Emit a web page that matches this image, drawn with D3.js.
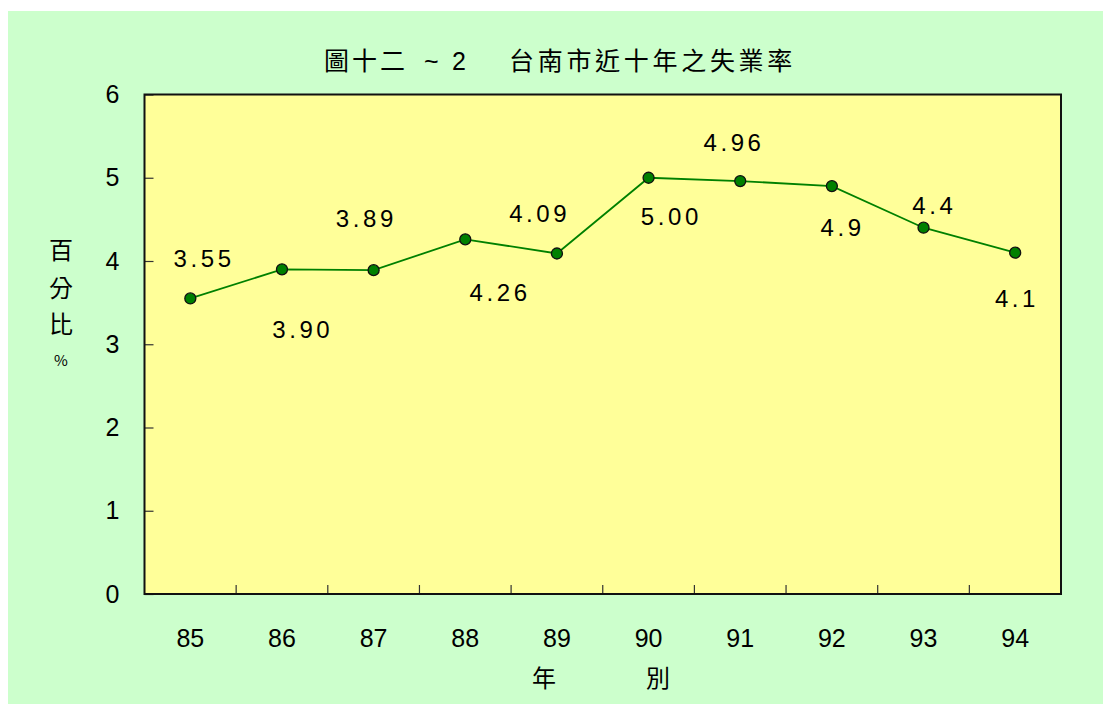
<!DOCTYPE html>
<html>
<head>
<meta charset="utf-8">
<script src="https://cdn.jsdelivr.net/npm/d3@7"></script>
<style>
  html, body { margin: 0; padding: 0; background: #ffffff; }
  svg { display: block; }
</style>
</head>
<body>
<svg id="chart" width="1103" height="704"></svg>
<script>
// Unemployment rate, Tainan City, ROC years 85–94
const years = ["85", "86", "87", "88", "89", "90", "91", "92", "93", "94"];
const rates = [3.55, 3.90, 3.89, 4.26, 4.09, 5.00, 4.96, 4.9, 4.4, 4.1];
const rateLabels = ["3.55", "3.90", "3.89", "4.26", "4.09", "5.00", "4.96", "4.9", "4.4", "4.1"];
const yTicks = [0, 1, 2, 3, 4, 5, 6];

// label placement relative to each point (pixels)
const labelDx = [12, 19, -9, 33, -19, 21, -8, 9, 9, 0];
const labelDy = [-40, 60, -52, 53, -40, 39, -39, 41, -22, 46];

const svg = d3.select("#chart");
const W = 1103, H = 704;

// panel background
svg.append("rect").attr("x", 8).attr("y", 11)
  .attr("width", W - 8).attr("height", H - 11)
  .attr("fill", "#ccffcc");

const plot = { left: 144.5, right: 1061, top: 94.5, bottom: 594 };

const x = d3.scaleBand().domain(years).range([plot.left, plot.right]);
const y = d3.scaleLinear().domain([0, 6]).range([plot.bottom, plot.top]);

// plot area
svg.append("rect")
  .attr("x", plot.left).attr("y", plot.top)
  .attr("width", plot.right - plot.left).attr("height", plot.bottom - plot.top)
  .attr("fill", "#ffff99");

const tickFont = "'Liberation Sans Narrow', 'Liberation Sans', Arial, sans-serif";

// y axis: ticks pointing into the plot
const yAxis = svg.append("g")
  .attr("transform", `translate(${plot.left},0)`)
  .call(d3.axisLeft(y).tickValues(yTicks).tickSizeInner(-9).tickSizeOuter(0).tickPadding(25)
    .tickFormat(d3.format("d")));
yAxis.select(".domain").remove();
yAxis.selectAll(".tick line").attr("stroke", "#333").attr("stroke-width", 1.2);
yAxis.selectAll(".tick text")
  .attr("font-family", tickFont).attr("font-size", 25).attr("fill", "#000");

// x axis: category labels, ticks at category boundaries
const xAxis = svg.append("g")
  .attr("transform", `translate(0,${plot.bottom})`)
  .call(d3.axisBottom(x).tickSize(0).tickPadding(35));
xAxis.select(".domain").remove();
xAxis.selectAll(".tick text")
  .attr("font-family", tickFont).attr("font-size", 25).attr("fill", "#000");

svg.append("g").selectAll("line")
  .data(years.slice(0, -1))
  .join("line")
  .attr("x1", d => x(d) + x.bandwidth()).attr("x2", d => x(d) + x.bandwidth())
  .attr("y1", plot.bottom).attr("y2", plot.bottom - 9)
  .attr("stroke", "#333").attr("stroke-width", 1.2);

// plot frame
svg.append("rect")
  .attr("x", plot.left).attr("y", plot.top)
  .attr("width", plot.right - plot.left).attr("height", plot.bottom - plot.top)
  .attr("fill", "none").attr("stroke", "#111").attr("stroke-width", 2);

const cx = d => x(d) + x.bandwidth() / 2;

// series line
const line = d3.line().x((d, i) => cx(years[i])).y(d => y(d));
svg.append("path")
  .datum(rates)
  .attr("d", line)
  .attr("fill", "none").attr("stroke", "#008000").attr("stroke-width", 1.8);

// markers
svg.append("g").selectAll("circle")
  .data(rates)
  .join("circle")
  .attr("cx", (d, i) => cx(years[i])).attr("cy", d => y(d))
  .attr("r", 5.5)
  .attr("fill", "#008000").attr("stroke", "#111").attr("stroke-width", 1.3);

// value labels (spaced-out digits)
const labelSpacing = 3.6;
svg.append("g").selectAll("text")
  .data(rates)
  .join("text")
  .attr("x", (d, i) => cx(years[i]) + labelDx[i] + labelSpacing / 2)
  .attr("y", (d, i) => y(d) + labelDy[i])
  .attr("dy", "0.36em")
  .attr("text-anchor", "middle")
  .attr("font-family", "'Liberation Sans', Arial, sans-serif")
  .attr("font-size", 24)
  .attr("letter-spacing", labelSpacing)
  .attr("fill", "#000")
  .text((d, i) => rateLabels[i]);

// title
const cjk = "'Noto Sans CJK TC', 'Noto Sans CJK SC', sans-serif";
svg.append("text")
  .attr("x", 324).attr("y", 61).attr("dy", "0.35em")
  .attr("font-family", cjk).attr("font-size", 25)
  .attr("letter-spacing", 3)
  .text("圖十二");
svg.append("text")
  .attr("x", 424).attr("y", 61).attr("dy", "0.35em")
  .attr("font-family", "'Liberation Sans', Arial, sans-serif").attr("font-size", 25)
  .text("~");
svg.append("text")
  .attr("x", 452).attr("y", 61).attr("dy", "0.35em")
  .attr("font-family", "'Liberation Sans', Arial, sans-serif").attr("font-size", 25)
  .text("2");
svg.append("text")
  .attr("x", 509).attr("y", 61).attr("dy", "0.35em")
  .attr("font-family", cjk).attr("font-size", 25)
  .attr("letter-spacing", 3.7)
  .text("台南市近十年之失業率");

// y axis title, stacked vertically
const yTitle = [
  { t: "百", y: 251, s: 24 },
  { t: "分", y: 289, s: 24 },
  { t: "比", y: 325, s: 24 },
  { t: "%", y: 361, s: 15 }
];
svg.append("g").selectAll("text")
  .data(yTitle)
  .join("text")
  .attr("x", 61).attr("y", d => d.y).attr("dy", "0.35em")
  .attr("text-anchor", "middle")
  .attr("font-family", cjk).attr("font-size", d => d.s)
  .text(d => d.t);

// x axis title
svg.append("text").attr("x", 544).attr("y", 679).attr("dy", "0.35em")
  .attr("text-anchor", "middle").attr("font-family", cjk).attr("font-size", 24).text("年");
svg.append("text").attr("x", 658).attr("y", 679).attr("dy", "0.35em")
  .attr("text-anchor", "middle").attr("font-family", cjk).attr("font-size", 24).text("別");
</script>
</body>
</html>
